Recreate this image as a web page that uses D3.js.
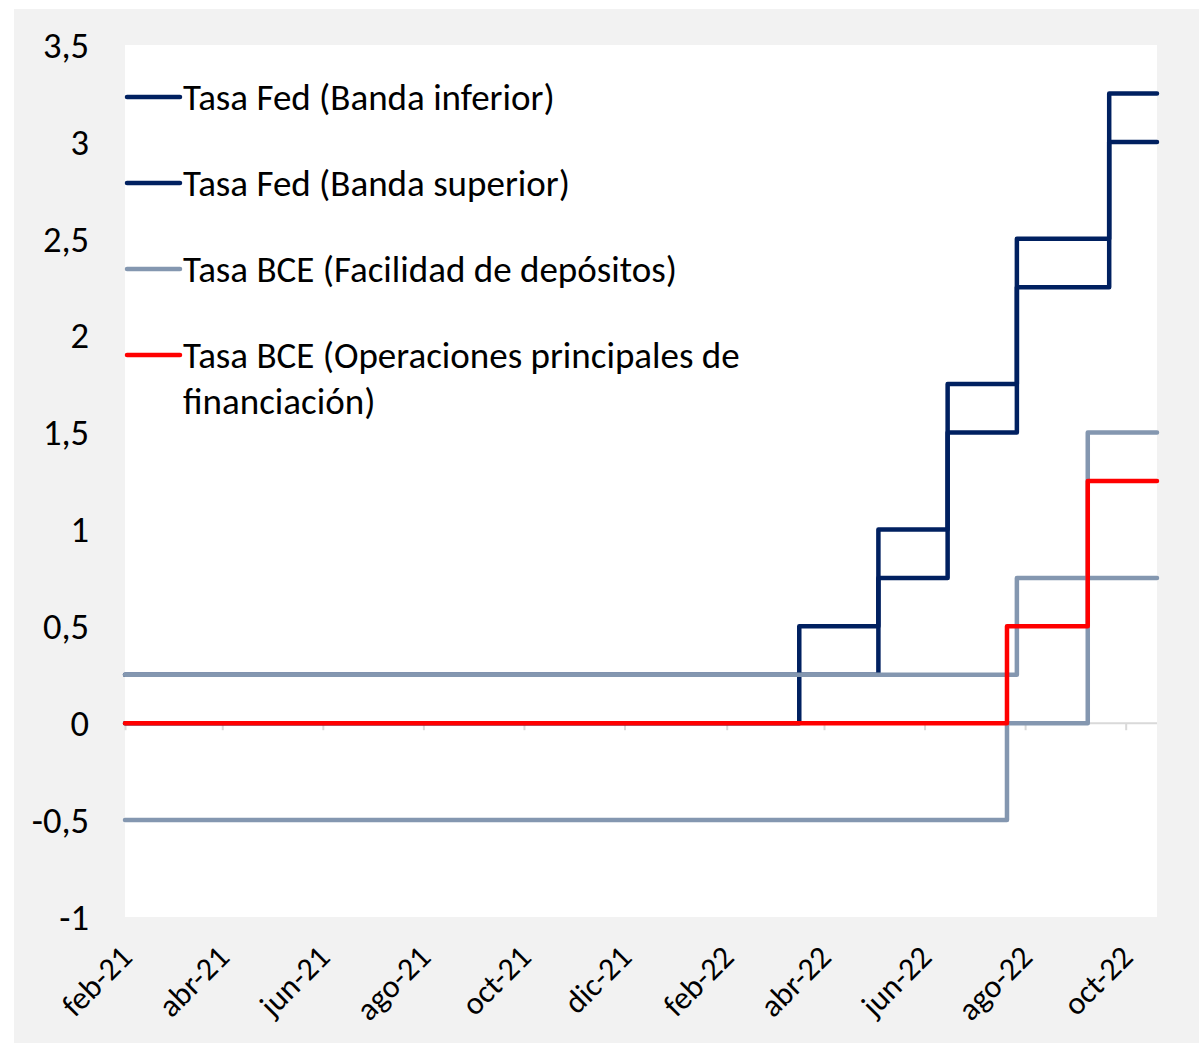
<!DOCTYPE html>
<html>
<head>
<meta charset="utf-8">
<script src="https://cdn.jsdelivr.net/npm/d3@7"></script>
<style>
  body { margin: 0; background: #ffffff; }
  text { font-family: Carlito, Calibri, Lato, sans-serif; fill: #000; }
</style>
</head>
<body>
<div id="chart"></div>
<script>
// fechas de cambio y valores de cada serie (tasa en %)
const fechaInicio = "2021-02-01"
const fechaFin = "2022-10-20"

const fedFechas = ["2021-02-01", "2022-03-17", "2022-05-04", "2022-06-15", "2022-07-27", "2022-09-21"]
const fedInferior = [0, 0.25, 0.75, 1.5, 2.25, 3.0]
const fedSuperior = [0.25, 0.5, 1.0, 1.75, 2.5, 3.25]

const bceFechas = ["2021-02-01", "2022-07-21", "2022-09-08"]
const bceDepositos = [-0.5, 0, 0.75]
const bceOperaciones = [0, 0.5, 1.25]

const bceMarginalFechas = ["2021-02-01", "2022-07-27", "2022-09-08"]
const bceMarginal = [0.25, 0.75, 1.5]

const yTicks = [-1, -0.5, 0, 0.5, 1, 1.5, 2, 2.5, 3, 3.5]
const xTicks = ["2021-02-01", "2021-04-01", "2021-06-01", "2021-08-01", "2021-10-01", "2021-12-01",
                "2022-02-01", "2022-04-01", "2022-06-01", "2022-08-01", "2022-10-01"]
const meses = ["ene", "feb", "mar", "abr", "may", "jun", "jul", "ago", "sep", "oct", "nov", "dic"]

const leyenda = [
  { nombre: "Tasa Fed (Banda inferior)", color: "#002060" },
  { nombre: "Tasa Fed (Banda superior)", color: "#002060" },
  { nombre: "Tasa BCE (Facilidad de depósitos)", color: "#8497b0" },
  { nombre: ["Tasa BCE (Operaciones principales de", "financiación)"], color: "#ff0000" }
]

const ancho = 1199, alto = 1043
const plot = { left: 125, right: 1157, top: 45, bottom: 917 }

const parse = d3.utcParse("%Y-%m-%d")

const svg = d3.select("#chart").append("svg")
  .attr("width", ancho)
  .attr("height", alto)

// fondo gris y area blanca
svg.append("rect").attr("x", 14).attr("y", 9).attr("width", ancho - 14).attr("height", alto - 9).attr("fill", "#f2f2f2")
svg.append("rect").attr("x", plot.left).attr("y", plot.top)
  .attr("width", plot.right - plot.left).attr("height", plot.bottom - plot.top).attr("fill", "#ffffff")

const x = d3.scaleUtc()
  .domain([parse(fechaInicio), parse(fechaFin)])
  .range([plot.left, plot.right])

const y = d3.scaleLinear()
  .domain([-1, 3.5])
  .range([plot.bottom, plot.top])

// eje x en el cero
const ejeX = svg.append("g")
  .attr("transform", "translate(0," + y(0) + ")")
  .call(d3.axisBottom(x).tickValues(xTicks.map(parse)).tickSize(7).tickFormat(""))
ejeX.select(".domain").attr("stroke", "#d9d9d9").attr("stroke-width", 2)
  .attr("d", "M" + plot.left + ",0H" + plot.right)
ejeX.selectAll(".tick line").attr("stroke", "#d9d9d9").attr("stroke-width", 2)

// etiquetas x giradas
svg.append("g").selectAll("text")
  .data(xTicks.map(parse))
  .join("text")
  .attr("text-anchor", "end")
  .attr("font-size", 32)
  .attr("transform", d => "translate(" + (x(d) + 9) + "," + 959 + ") rotate(-45)")
  .text(d => meses[d.getUTCMonth()] + "-" + String(d.getUTCFullYear()).slice(2))

// etiquetas y
svg.append("g").selectAll("text")
  .data(yTicks)
  .join("text")
  .attr("x", 89)
  .attr("y", d => y(d))
  .attr("dy", "0.35em")
  .attr("text-anchor", "end")
  .attr("font-size", 36.5)
  .text(d => String(d).replace(".", ","))

function serie(fechas, valores) {
  const pts = fechas.map((f, i) => ({ fecha: parse(f), valor: valores[i] }))
  pts.push({ fecha: parse(fechaFin), valor: valores[valores.length - 1] })
  return pts
}

const linea = d3.line()
  .x(d => x(d.fecha))
  .y(d => y(d.valor))
  .curve(d3.curveStepAfter)

const series = [
  { datos: serie(fedFechas, fedInferior), color: "#002060" },
  { datos: serie(fedFechas, fedSuperior), color: "#002060" },
  { datos: serie(bceMarginalFechas, bceMarginal), color: "#8497b0" },
  { datos: serie(bceFechas, bceDepositos), color: "#8497b0" },
  { datos: serie(bceFechas, bceOperaciones), color: "#ff0000" }
]

svg.append("g").selectAll("path")
  .data(series)
  .join("path")
  .attr("fill", "none")
  .attr("stroke", d => d.color)
  .attr("stroke-width", 4.5)
  .attr("stroke-linejoin", "round")
  .attr("stroke-linecap", "round")
  .attr("d", d => linea(d.datos))

// leyenda
const ley = svg.append("g").selectAll("g")
  .data(leyenda)
  .join("g")
  .attr("transform", (d, i) => "translate(0," + (97 + i * 86) + ")")

ley.append("line")
  .attr("x1", 127).attr("x2", 180)
  .attr("stroke", d => d.color)
  .attr("stroke-width", 4.5)
  .attr("stroke-linecap", "round")

ley.append("text")
  .attr("x", 183)
  .attr("font-size", 37)
  .selectAll("tspan")
  .data(d => Array.isArray(d.nombre) ? d.nombre : [d.nombre])
  .join("tspan")
  .attr("x", 183)
  .attr("y", (d, i) => i * 46)
  .attr("dy", "0.35em")
  .text(d => d)
</script>
</body>
</html>
